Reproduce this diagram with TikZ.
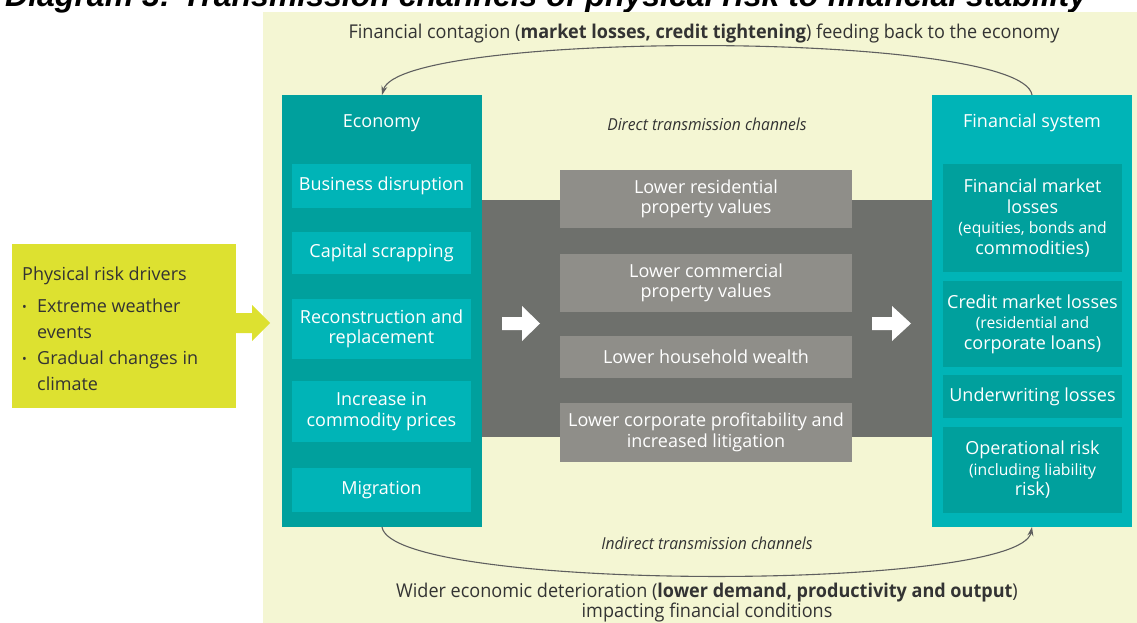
\documentclass[tikz,border=0pt]{standalone}
\usepackage{fontspec}
\setmainfont{Open Sans}
\newfontfamily\condfont[FakeStretch=0.95]{Open Sans}
\newfontfamily\headfont{Liberation Sans}
\usetikzlibrary{arrows.meta}

\definecolor{cream}{RGB}{244,246,211}
\definecolor{dteal}{RGB}{0,160,157}
\definecolor{lteal}{RGB}{0,180,183}
\definecolor{lime}{RGB}{221,225,48}
\definecolor{bandgray}{RGB}{110,112,108}
\definecolor{cellgray}{RGB}{143,142,137}
\definecolor{ink}{RGB}{51,51,51}
\definecolor{arcgray}{RGB}{95,95,95}

\newcommand\txtbody{\fontsize{18}{20.5}\selectfont}
\newcommand\txtsmall{\fontsize{15.7}{20.5}\selectfont}

\tikzset{
  cell/.style={inner sep=0pt, outer sep=0pt, text=white, align=center, font=\txtbody},
  ecell/.style={cell, fill=lteal, minimum width=179pt},
  fcell/.style={cell, fill=dteal, minimum width=179pt},
  gcell/.style={cell, fill=cellgray, minimum width=292pt},
  panel/.style={inner sep=0pt, outer sep=0pt, anchor=north west},
  arcline/.style={draw=arcgray, line width=1.1pt},
  chanlabel/.style={text=ink, font=\condfont\itshape\fontsize{16.5}{19}\selectfont},
  caption/.style={text=ink, align=center, font=\condfont\fontsize{19}{20}\selectfont},
}

\begin{document}
\begin{tikzpicture}[x=1pt, y=-1pt]
\useasboundingbox (0,0) rectangle (1137,623);
\clip (0,0) rectangle (1137,623);

% heading
\node[anchor=base west, inner sep=0pt, font=\headfont\bfseries\itshape\fontsize{32}{36}\selectfont] (heading) at (5,7)
  {Diagram 3: Transmission channels of physical risk to financial stability};

% background panel
\fill[cream] (263,12) rectangle (1137,623);

% drivers
\node[panel, fill=lime, minimum width=224pt, minimum height=164pt] (drivers) at (12,244) {};
\node[anchor=north west, inner sep=0pt, align=left, text=ink, font=\fontsize{18}{26}\selectfont] (driverstext) at (22,267)
  {Physical risk drivers\\[6pt]
   \makebox[15pt][l]{\raisebox{1pt}{\scalebox{0.7}{\textbullet}}}Extreme weather\\
   \hspace*{15pt}events\\
   \makebox[15pt][l]{\raisebox{1pt}{\scalebox{0.7}{\textbullet}}}Gradual changes in\\
   \hspace*{15pt}climate};
\fill[lime] (drivers.east |- 0,313) -- (252,313) -- (252,305) -- (270,323) -- (252,341) -- (252,333) -- (drivers.east |- 0,333) -- cycle;

% gray channel band
\node[panel, fill=bandgray, minimum width=451pt, minimum height=237pt] (band) at (481,200) {};

% economy column
\node[panel, fill=dteal, minimum width=200pt, minimum height=432pt] (econ) at (282,95) {};
\node[cell, font=\fontsize{18}{21}\selectfont] (econtitle) at (381.5,123) {Economy};
\node[ecell, minimum height=44pt] (e1) at (381.5,186) {Business disruption};
\node[ecell, minimum height=42pt] (e2) at (381.5,253) {Capital scrapping};
\node[ecell, minimum height=60pt] (e3) at (381.5,329) {Reconstruction and\\replacement};
\node[ecell, minimum height=61pt] (e4) at (381.5,411.5) {Increase in\\commodity prices};
\node[ecell, minimum height=44pt] (e5) at (381.5,490) {Migration};

% financial system column
\node[panel, fill=lteal, minimum width=200pt, minimum height=432pt] (fin) at (932,95) {};
\node[cell, font=\fontsize{18}{21}\selectfont] (fintitle) at (1032,123) {Financial system};
\node[fcell, minimum height=108pt] (f1) at (1032.5,218) {Financial market\\losses\\\txtsmall(equities, bonds and\\commodities)};
\node[fcell, minimum height=86pt] (f2) at (1032.5,324) {Credit market losses\\\txtsmall(residential and\\corporate loans)};
\node[fcell, minimum height=43pt] (f3) at (1032.5,396.5) {Underwriting losses};
\node[fcell, minimum height=86pt] (f4) at (1032.5,470) {Operational risk\\\txtsmall(including liability\\risk)};

% direct channels
\node[gcell, minimum height=58pt] (g1) at (706,199) {Lower residential\\property values};
\node[gcell, minimum height=58pt] (g2) at (706,283) {Lower commercial\\property values};
\node[gcell, minimum height=42pt] (g3) at (706,357) {Lower household wealth};
\node[gcell, minimum height=59pt] (g4) at (706,432.5) {Lower corporate profitability and\\increased litigation};

% white block arrows in the band
\fill[white] (502,317) -- (522,317) -- (522,306) -- (540,323.5) -- (522,341) -- (522,330) -- (502,330) -- cycle;
\fill[white] (872,317) -- (892,317) -- (892,306) -- (911,323.5) -- (892,341) -- (892,330) -- (872,330) -- cycle;

% channel labels
\node[chanlabel] (direct) at (707,124) {Direct transmission channels};
\node[chanlabel] (indirect) at (707,543) {Indirect transmission channels};

% feedback loops
\draw[arcline, -{Stealth[length=9pt, width=6pt]}] (fin.north) .. controls (1022,30) and (400,30) .. (econ.north);
\draw[arcline, -{Stealth[length=9pt, width=6pt]}] (econ.south) .. controls (392,592) and (1020,592) .. (fin.south);

% loop captions
\node[caption] (toptext) at (704,34)
  {Financial contagion (\textbf{market losses, credit tightening}) feeding back to the economy};
\node[caption] (bottomtext) at (707,603)
  {Wider economic deterioration (\textbf{lower demand, productivity and output})\\impacting financial conditions};
\end{tikzpicture}
\end{document}
